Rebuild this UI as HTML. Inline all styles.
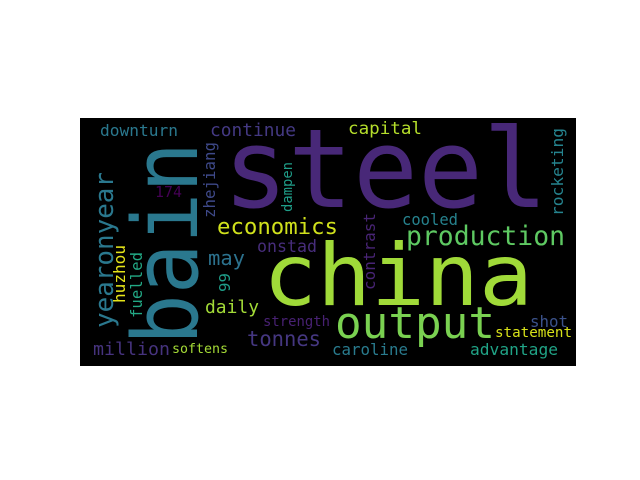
<!DOCTYPE html>
<html><head><meta charset="utf-8"><style>
html,body{margin:0;padding:0;background:#fff;}
svg{display:block;}
text{font-family:"DejaVu Sans Mono","Liberation Mono",monospace;}
</style></head><body>
<svg width="640" height="480" viewBox="0 0 640 480">
<rect x="80" y="118" width="496" height="248" fill="#000"/>
<g>
<text x="223" y="207" font-size="110" fill="#482878" textLength="325" lengthAdjust="spacingAndGlyphs">steel</text>
<text x="263" y="305" font-size="86" fill="#a0da39" textLength="270" lengthAdjust="spacingAndGlyphs">china</text>
<text transform="translate(197,345) rotate(-90)" font-size="90" fill="#2a788e" textLength="203" lengthAdjust="spacingAndGlyphs">bain</text>
<text x="335" y="338" font-size="44" fill="#7ad151" textLength="160" lengthAdjust="spacingAndGlyphs">output</text>
<text x="406" y="245" font-size="27" fill="#5ec962" textLength="159" lengthAdjust="spacingAndGlyphs">production</text>
<text x="217" y="234" font-size="22" fill="#d0e11c" textLength="121" lengthAdjust="spacingAndGlyphs">economics</text>
<text x="100" y="136" font-size="16" fill="#2a788e" textLength="78" lengthAdjust="spacingAndGlyphs">downturn</text>
<text x="210" y="136" font-size="18" fill="#443983" textLength="86" lengthAdjust="spacingAndGlyphs">continue</text>
<text x="348" y="134" font-size="17" fill="#b5de2b" textLength="74" lengthAdjust="spacingAndGlyphs">capital</text>
<text transform="translate(563,216) rotate(-90)" font-size="16" fill="#25838e" textLength="88" lengthAdjust="spacingAndGlyphs">rocketing</text>
<text transform="translate(113,328) rotate(-90)" font-size="26" fill="#2a788e" textLength="156" lengthAdjust="spacingAndGlyphs">yearonyear</text>
<text transform="translate(125,303) rotate(-90)" font-size="16" fill="#e5e419" textLength="58" lengthAdjust="spacingAndGlyphs">huzhou</text>
<text transform="translate(142,318) rotate(-90)" font-size="16" fill="#22a884" textLength="66" lengthAdjust="spacingAndGlyphs">fuelled</text>
<text x="93" y="355" font-size="18" fill="#46337e" textLength="77" lengthAdjust="spacingAndGlyphs">million</text>
<text x="172" y="353" font-size="13" fill="#a5db36" textLength="56" lengthAdjust="spacingAndGlyphs">softens</text>
<text transform="translate(215,218) rotate(-90)" font-size="16" fill="#3e4989" textLength="76" lengthAdjust="spacingAndGlyphs">zhejiang</text>
<text x="155" y="197" font-size="15" fill="#440154" textLength="27" lengthAdjust="spacingAndGlyphs">174</text>
<text transform="translate(292,212) rotate(-90)" font-size="14" fill="#1f9e89" textLength="50" lengthAdjust="spacingAndGlyphs">dampen</text>
<text x="257" y="252" font-size="17" fill="#472d7b" textLength="60" lengthAdjust="spacingAndGlyphs">onstad</text>
<text x="208" y="265" font-size="20" fill="#2c728e" textLength="37" lengthAdjust="spacingAndGlyphs">may</text>
<text transform="translate(230,292) rotate(-90)" font-size="15" fill="#1f9e89" textLength="19" lengthAdjust="spacingAndGlyphs">99</text>
<text x="205" y="313" font-size="18" fill="#a2da37" textLength="54" lengthAdjust="spacingAndGlyphs">daily</text>
<text x="263" y="326" font-size="14" fill="#482173" textLength="67" lengthAdjust="spacingAndGlyphs">strength</text>
<text x="247" y="346" font-size="21" fill="#453781" textLength="74" lengthAdjust="spacingAndGlyphs">tonnes</text>
<text transform="translate(375,290) rotate(-90)" font-size="16" fill="#482475" textLength="77" lengthAdjust="spacingAndGlyphs">contrast</text>
<text x="402" y="225" font-size="16" fill="#26828e" textLength="56" lengthAdjust="spacingAndGlyphs">cooled</text>
<text x="530" y="327" font-size="16" fill="#3b528b" textLength="38" lengthAdjust="spacingAndGlyphs">shot</text>
<text x="495" y="337" font-size="14" fill="#d8e219" textLength="77" lengthAdjust="spacingAndGlyphs">statement</text>
<text x="470" y="355" font-size="16" fill="#20a386" textLength="88" lengthAdjust="spacingAndGlyphs">advantage</text>
<text x="332" y="355" font-size="16" fill="#297b8e" textLength="76" lengthAdjust="spacingAndGlyphs">caroline</text>
</g>
</svg>
</body></html>
